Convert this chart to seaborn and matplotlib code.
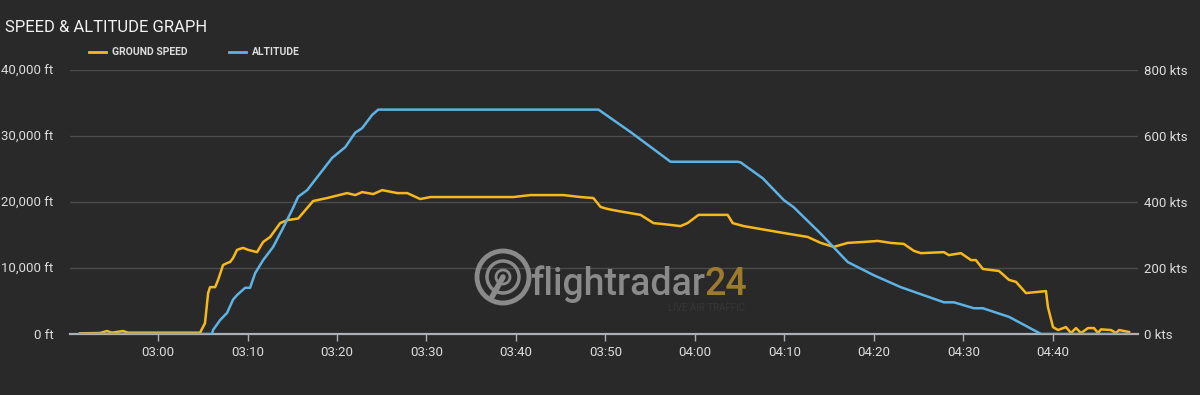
import numpy as np
import pandas as pd
import matplotlib
matplotlib.use('Agg')
import matplotlib.pyplot as plt
import matplotlib.dates as mdates
from matplotlib.patches import Ellipse
from matplotlib.lines import Line2D
from matplotlib.ticker import FuncFormatter, MultipleLocator
import seaborn as sns

# altitude track (ft)
alt_times = ['02:51:17', '03:06:02', '03:06:09', '03:06:56', '03:07:43', '03:08:23', '03:08:50',
             '03:09:44', '03:10:17', '03:10:51', '03:11:45', '03:12:52', '03:13:59', '03:14:59',
             '03:15:40', '03:16:40', '03:19:28', '03:20:55', '03:22:02', '03:22:49', '03:23:56',
             '03:24:37', '03:49:13', '03:52:48', '03:57:16', '04:04:46', '04:05:06', '04:07:34',
             '04:09:55', '04:11:02', '04:14:03', '04:17:04', '04:19:59', '04:22:59', '04:27:49',
             '04:28:56', '04:31:10', '04:32:10', '04:35:05', '04:38:40', '04:48:30']
alt_ft = [0, 0, 600, 2100, 3200, 5200, 5900,
          7000, 7000, 9200, 11200, 13200, 16100, 18800,
          20800, 21800, 26700, 28300, 30500, 31200, 33200,
          34000, 34000, 30600, 26100, 26100, 26000, 23600,
          20300, 19200, 15200, 10900, 8900, 7100, 4800,
          4800, 3900, 3900, 2600, 0, 0]

# ground speed track (kts)
spd_times = ['02:51:17', '02:53:31', '02:54:18', '02:54:51', '02:56:05', '02:56:39', '03:04:42',
             '03:05:15', '03:05:36', '03:05:49', '03:06:23', '03:06:43', '03:07:16', '03:07:43',
             '03:08:03', '03:08:23', '03:08:50', '03:09:30', '03:10:04', '03:11:04', '03:11:45',
             '03:12:32', '03:13:39', '03:14:26', '03:15:40', '03:17:20', '03:18:54', '03:21:08',
             '03:22:02', '03:22:49', '03:24:03', '03:25:03', '03:26:44', '03:27:51', '03:29:18',
             '03:30:26', '03:36:01', '03:39:43', '03:41:37', '03:45:18', '03:47:12', '03:48:39',
             '03:49:27', '03:50:13', '03:51:20', '03:53:55', '03:55:22', '03:56:29', '03:58:23',
             '03:59:10', '04:00:24', '04:03:39', '04:04:13', '04:05:26', '04:09:55', '04:12:36',
             '04:14:03', '04:15:30', '04:17:04', '04:18:52', '04:20:26', '04:21:53', '04:23:20',
             '04:24:27', '04:25:14', '04:27:49', '04:28:22', '04:29:43', '04:30:50', '04:31:23',
             '04:32:10', '04:33:58', '04:35:05', '04:35:52', '04:36:59', '04:39:13', '04:39:26',
             '04:40:00', '04:40:34', '04:41:27', '04:42:01', '04:42:34', '04:43:08', '04:43:55',
             '04:44:35', '04:45:02', '04:45:22', '04:46:29', '04:47:03', '04:47:23', '04:48:30']
spd_kts = [2, 3, 9, 4, 9, 4, 4,
           33, 124, 142, 142, 164, 209, 215,
           218, 230, 255, 261, 255, 248, 279,
           294, 336, 345, 350, 403, 412, 427,
           421, 430, 424, 436, 427, 427, 409,
           415, 415, 415, 421, 421, 415, 412,
           385, 379, 373, 361, 336, 333, 327,
           336, 361, 361, 336, 327, 306, 294,
           276, 264, 276, 279, 282, 276, 273,
           252, 245, 248, 239, 245, 224, 224,
           197, 191, 164, 158, 124, 130, 82,
           21, 12, 21, 3, 18, 3, 18,
           18, 3, 14, 12, 3, 12, 6]

day = '2024-01-01 '
alt_df = pd.DataFrame({'time': pd.to_datetime([day + t for t in alt_times]), 'altitude': alt_ft})
spd_df = pd.DataFrame({'time': pd.to_datetime([day + t for t in spd_times]), 'speed': spd_kts})

bg = '#292929'
grid_c = '#4b4b4b'
txt_c = '#dcdcdc'
yellow = '#f7b81b'
blue = '#5cb3e4'
W, H = 1200, 395

plt.rcParams['font.family'] = ['Roboto', 'DejaVu Sans']

fig = plt.figure(figsize=(12, 3.95), dpi=100, facecolor=bg)
ax = fig.add_axes([70 / W, 1 - 334 / H, 1068 / W, 264 / H])
ax2 = ax.twinx()
ax.set_zorder(2)
ax2.set_zorder(1)
ax.patch.set_visible(False)
ax2.patch.set_visible(True)
ax2.patch.set_facecolor(bg)

sns.lineplot(data=spd_df, x='time', y='speed', ax=ax2, color=yellow, linewidth=1.8,
             estimator=None, legend=False, zorder=3)
sns.lineplot(data=alt_df, x='time', y='altitude', ax=ax, color=blue, linewidth=1.8,
             estimator=None, legend=False, zorder=3)

xmin = pd.Timestamp(day + '02:50:10')
xmax = pd.Timestamp(day + '04:49:30')
ax.set_xlim(xmin, xmax)
ax.set_ylim(0, 40000)
ax2.set_ylim(0, 800)
ax.yaxis.set_major_locator(MultipleLocator(10000))
ax2.yaxis.set_major_locator(MultipleLocator(200))
ax.yaxis.set_major_formatter(FuncFormatter(lambda v, p: f"{v:,.0f} ft"))
ax2.yaxis.set_major_formatter(FuncFormatter(lambda v, p: f"{v:.0f} kts"))
ax.set_xticks(pd.date_range(day + '03:00', day + '04:40', freq='10min'))
ax.xaxis.set_major_formatter(mdates.DateFormatter('%H:%M'))

ax.set_xlabel('')
ax.set_ylabel('')
ax2.set_ylabel('')

for a in (ax, ax2):
    for s in a.spines.values():
        s.set_visible(False)
ax.spines['bottom'].set_visible(True)
ax.spines['bottom'].set_color('#a9b0b8')
ax.spines['bottom'].set_linewidth(1.6)

ax.grid(False)
ax2.grid(True, color=grid_c, linewidth=1)
ax2.set_axisbelow(True)

ax.tick_params(axis='x', colors='#a9b0b8', length=5, width=1, labelcolor=txt_c, labelsize=9.5, pad=4)
ax.tick_params(axis='y', length=0, labelcolor=txt_c, labelsize=9.5, pad=12)
ax2.tick_params(axis='y', length=0, labelcolor=txt_c, labelsize=9.5, pad=4)
ax2.tick_params(axis='x', length=0)

# title and legend
fig.text(5 / W, 1 - 28 / H, 'SPEED & ALTITUDE GRAPH', color='#f2f2f2', fontsize=12,
         va='center', ha='left')
for x0, color, label in [(89, yellow, 'GROUND SPEED'), (229, blue, 'ALTITUDE')]:
    fig.add_artist(Line2D([x0 / W, (x0 + 17) / W], [1 - 52 / H] * 2, color=color,
                          linewidth=2, transform=fig.transFigure))
    fig.text((x0 + 23) / W, 1 - 52 / H, label, color=txt_c, fontsize=7.5,
             fontweight='bold', va='center', ha='left')

# watermark
wm = '#8a8a8a'
cx, cy = 503, 277
for r, lw in [(26, 3.5), (16, 2.5), (7, 2)]:
    ax2.add_artist(Ellipse((cx / W, 1 - cy / H), 2 * r / W, 2 * r / H, fill=False,
                           edgecolor=wm, linewidth=lw, transform=fig.transFigure, zorder=1))
ax2.add_artist(Line2D([cx / W, (cx - 11) / W], [1 - cy / H, 1 - (cy + 20) / H], color=wm,
                      linewidth=4, solid_capstyle='round', transform=fig.transFigure, zorder=1))
ax2.text(530 / W, 1 - 295 / H, 'flightradar', color=wm, fontsize=27, fontweight='medium',
         ha='left', va='baseline', transform=fig.transFigure, zorder=1)
ax2.text(704 / W, 1 - 295 / H, '24', color='#9c7b2c', fontsize=27, fontweight='medium',
         ha='left', va='baseline', transform=fig.transFigure, zorder=1)
ax2.text(745 / W, 1 - 308 / H, 'LIVE AIR TRAFFIC', color='#363636', fontsize=7, ha='right',
         va='center', transform=fig.transFigure, zorder=1)

fig.savefig('out.png', dpi=100, facecolor=bg)
